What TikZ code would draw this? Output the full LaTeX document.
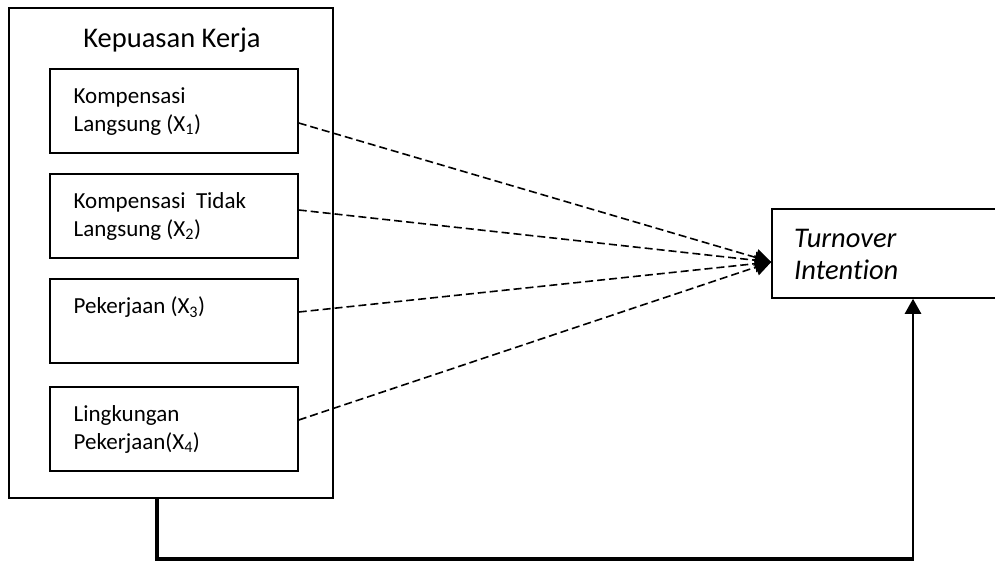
\documentclass[tikz,border=0pt]{standalone}
\usepackage{fontspec}
\setmainfont{Carlito}[Ligatures=NoCommon]
\usetikzlibrary{arrows.meta}
\tikzset{
  box/.style={draw, line width=1.5pt, inner sep=0pt, rectangle},
  lbl/.style={anchor=base west, inner sep=0pt, font=\fontsize{23}{27.8}\selectfont},
  ttl/.style={anchor=base, inner sep=0pt, font=\fontsize{28.5}{34}\selectfont},
  itl/.style={anchor=base west, inner sep=0pt, font=\fontsize{28.5}{32}\selectfont\itshape},
  dashln/.style={dash pattern=on 8pt off 4pt, line width=1.6pt, -{Triangle[length=16pt,width=17pt]}},
}
\newcommand{\sbx}[1]{\textsubscript{#1}}
\begin{document}
\begin{tikzpicture}[x=1pt,y=-1pt]
\useasboundingbox (0,0) rectangle (995,562);
\clip (0,0) rectangle (995,562);
% outer box
\node[box, minimum width=324pt, minimum height=490pt] (outer) at (171,253) {};
\node[ttl] (title) at (172,47.3) {Kepuasan Kerja};
% inner boxes
\node[box, minimum width=248pt, minimum height=84pt] (b1) at (174,111) {};
\node[box, minimum width=248pt, minimum height=84pt] (b2) at (174,216) {};
\node[box, minimum width=248pt, minimum height=84pt] (b3) at (174,321) {};
\node[box, minimum width=248pt, minimum height=84pt] (b4) at (174,429) {};
\node[lbl] (t1a) at (73.5,103.3) {Kompensasi};
\node[lbl] (t1b) at (73.5,131) {Langsung (X\sbx{1})};
\node[lbl] (t2a) at (73.5,208.3) {Kompensasi\ \ Tidak};
\node[lbl] (t2b) at (73.5,236) {Langsung (X\sbx{2})};
\node[lbl] (t3a) at (73.5,313.3) {Pekerjaan (X\sbx{3})};
\node[lbl] (t4a) at (73.5,421.3) {Lingkungan};
\node[lbl] (t4b) at (73.5,449) {Pekerjaan(X\sbx{4})};
% turnover box
\node[box, minimum width=233pt, minimum height=89pt] (to) at (888.5,253.5) {};
\node[itl] (ta) at (794,247) {Turnover};
\node[itl] (tb) at (794,279) {Intention};
% dashed connectors
\coordinate (tip) at ([yshift=-8.5pt]to.west);
\draw[dashln] ([yshift=-12pt]b1.east) -- (tip);
\draw[dashln] ([yshift=6pt]b2.east) -- (tip);
\draw[dashln] ([yshift=9pt]b3.east) -- (tip);
\draw[dashln] ([yshift=9pt]b4.east) -- (tip);
% bottom feedback connector
\coordinate (c0) at ([xshift=-14pt]outer.south);
\coordinate (c1) at (157,559);
\coordinate (c2) at (913,559);
\coordinate (c3) at (913,298);
\draw[line width=4.5pt] (c0) -- ([yshift=-1.75pt]c1);
\draw[line width=3.5pt] ([xshift=-2.25pt]c1) -- ([xshift=1.2pt]c2);
\draw[line width=2.4pt, -{Triangle[length=15pt,width=16pt]}] ([yshift=-1.75pt]c2) -- (to.south -| c3);
\end{tikzpicture}
\end{document}
